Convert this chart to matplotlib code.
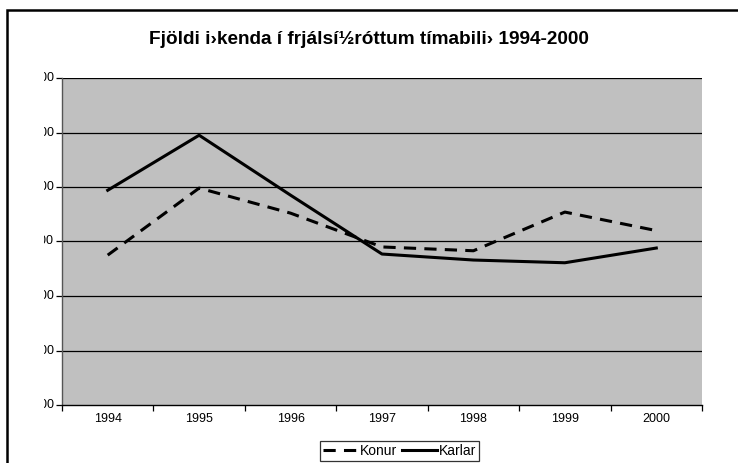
import matplotlib
matplotlib.use("Agg")
import matplotlib.pyplot as plt
from matplotlib.patches import Rectangle
from matplotlib.transforms import Bbox, TransformedBbox, IdentityTransform

years = ["1994", "1995", "1996", "1997", "1998", "1999", "2000"]
konur = [375, 498, 452, 390, 383, 454, 420]
karlar = [494, 595, 485, 377, 366, 361, 388]
y_ticks = [100, 200, 300, 400, 500, 600, 700]
title = "Fjöldi i›kenda í frjálsí½róttum tímabili› 1994-2000"

W, H = 738, 463
plt.rcParams['font.family'] = ['Liberation Sans', 'DejaVu Sans']
fig = plt.figure(figsize=(W / 100, H / 100), dpi=100)
fig.patch.set_facecolor('white')

# outer chart border (right/bottom edges fall outside image)
fig.add_artist(Rectangle((7 / W, -0.1), 1.2, 1 - 10 / H + 0.1, transform=fig.transFigure,
                         fill=False, edgecolor='black', linewidth=1.8, clip_on=False))

L, R, T, B = 62, 702, 78, 405
ax = fig.add_axes([L / W, 1 - B / H, (R - L) / W, (B - T) / H])
ax.set_facecolor('#C0C0C0')

x = list(range(len(years)))
ax.plot(x, konur, color='black', linewidth=2.2, dashes=(4, 2.7), label='Konur')
ax.plot(x, karlar, color='black', linewidth=2.2, label='Karlar')

ax.set_xlim(-0.5, len(years) - 0.5)
ax.set_ylim(y_ticks[0], y_ticks[-1])
for v in y_ticks[1:]:
    ax.axhline(v, color='black', linewidth=0.9, zorder=1)

ax.set_xticks([i - 0.5 for i in range(len(years) + 1)])
ax.set_xticklabels([])
ax.set_xticks(x, minor=True)
ax.set_xticklabels(years, minor=True, fontsize=9)
ax.tick_params(axis='x', which='minor', length=0, pad=6)
ax.tick_params(axis='x', which='major', length=4, width=0.9, direction='out')

ax.set_yticks(y_ticks)
ax.set_yticklabels([])
ax.tick_params(axis='y', length=4, width=0.9, direction='out')

clip = TransformedBbox(Bbox([[44, 0], [W, H]]), IdentityTransform())
for v in y_ticks:
    t = ax.text(-0.0125, v, str(v), transform=ax.get_yaxis_transform(), ha='right', va='center',
                fontsize=9)
    t.set_clip_on(True)
    t.set_clip_box(clip)

for s in ['top', 'right']:
    ax.spines[s].set_visible(False)
ax.spines['left'].set_color('#555555')
ax.spines['left'].set_linewidth(1.0)
ax.spines['bottom'].set_color('black')
ax.spines['bottom'].set_linewidth(1.0)

fig.text(369 / W, 1 - 40 / H, title, ha='center', va='center', fontsize=13.7, fontweight='bold')

leg = fig.legend(loc='upper left', bbox_to_anchor=(320 / W, 1 - 441 / H), ncol=2,
                 frameon=True, fancybox=False, fontsize=10, handlelength=2.5,
                 handletextpad=0.15, columnspacing=0.4, borderpad=0.2, borderaxespad=0)
leg.get_frame().set_edgecolor('black')
leg.get_frame().set_linewidth(0.9)

fig.savefig('out.png', dpi=100)
